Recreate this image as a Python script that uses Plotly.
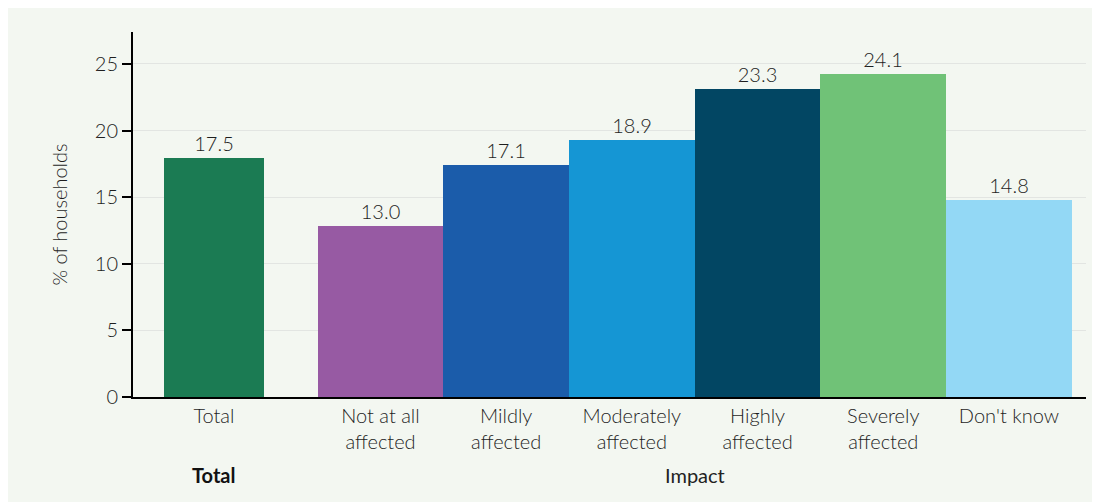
import plotly.graph_objects as go

# Datos
total_label = "Total"
total_value = 17.97
total_text = "17.5"

impact_labels = ["Not at all<br>affected", "Mildly<br>affected", "Moderately<br>affected",
                 "Highly<br>affected", "Severely<br>affected", "Don't know"]
impact_values = [12.81, 17.44, 19.26, 23.14, 24.26, 14.76]
impact_text = ["13.0", "17.1", "18.9", "23.3", "24.1", "14.8"]

y_ticks = [0, 5, 10, 15, 20, 25]

# Colores
total_color = "#1b7b53"
impact_colors = ["#975aa3", "#1b5caa", "#1596d4", "#024663", "#70c277", "#93d8f5"]
bg = "#f3f7f1"
txt = "#1e1e1e"
fuente = "Lato"

# Posiciones en el eje x (Total separado del grupo Impact)
impact_x = list(range(1, len(impact_labels) + 1))
total_x = -0.325

fig = go.Figure()

fig.add_trace(go.Bar(
    x=[total_x], y=[total_value], width=0.8,
    marker=dict(color=total_color, line=dict(width=0)),
    text=[total_text], textposition="outside", cliponaxis=False,
    textfont=dict(size=20, color=txt, family=fuente, weight=300),
    showlegend=False, hoverinfo="skip"
))

fig.add_trace(go.Bar(
    x=impact_x, y=impact_values, width=1.0,
    marker=dict(color=impact_colors, line=dict(width=0)),
    text=impact_text, textposition="outside", cliponaxis=False,
    textfont=dict(size=20, color=txt, family=fuente, weight=300),
    showlegend=False, hoverinfo="skip"
))

# Etiquetas de grupo
fig.add_annotation(x=total_x, y=-0.252, xref="x", yref="paper", text="Total",
                   showarrow=False, font=dict(size=20, color="#111", family=fuente, weight=700))
fig.add_annotation(x=(impact_x[0] + impact_x[-1]) / 2, y=-0.252, xref="x", yref="paper",
                   text="Impact", showarrow=False,
                   font=dict(size=20, color="#222", family=fuente, weight=400))

fig.update_layout(
    width=1100, height=502,
    margin=dict(l=125, r=22, t=24, b=113),
    paper_bgcolor=bg, plot_bgcolor=bg,
    font=dict(family=fuente, size=20, color=txt, weight=300),
    bargap=0,
    xaxis=dict(
        range=[-0.969, 6.613],
        tickvals=[total_x] + impact_x,
        ticktext=[total_label] + impact_labels,
        showgrid=False, zeroline=False,
        showline=True, linecolor="black", linewidth=2,
        ticks="", tickfont=dict(size=20, color=txt, weight=300),
    ),
    yaxis=dict(
        range=[0, 27.4],
        tickvals=y_ticks,
        showgrid=True, gridcolor="#e2e5e2", gridwidth=1,
        zeroline=False,
        showline=True, linecolor="black", linewidth=2,
        ticks="outside", ticklen=9, tickwidth=2, tickcolor="black",
        tickfont=dict(size=20, color=txt, weight=300),
        title=dict(text="% of households", font=dict(size=20, color=txt, weight=300), standoff=22),
    ),
)

fig.write_html("out.html")
